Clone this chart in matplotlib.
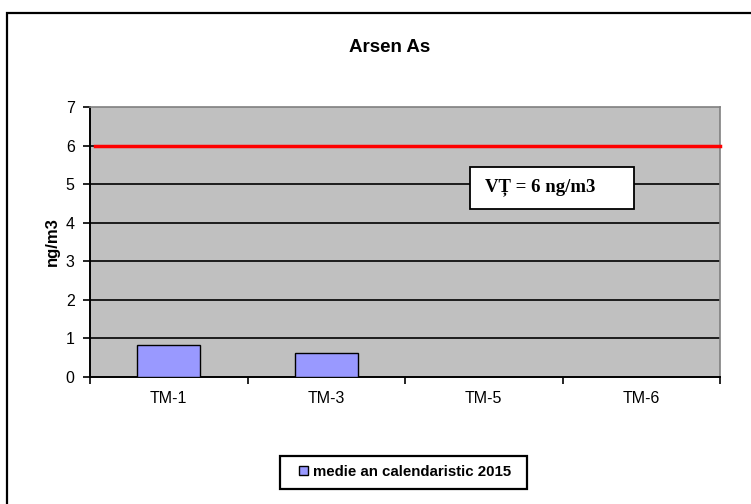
import matplotlib
matplotlib.use('Agg')
import matplotlib.pyplot as plt
from matplotlib.patches import Rectangle, Patch
import numpy as np

# date
statii = ['TM-1', 'TM-3', 'TM-5', 'TM-6']
medie_2015 = [0.83, 0.61, 0.0, 0.0]
valoare_tinta = 6
y_ticks = [0, 1, 2, 3, 4, 5, 6, 7]

plt.rcParams['font.family'] = ['Liberation Sans', 'DejaVu Sans']

fig = plt.figure(figsize=(7.51, 5.04), dpi=100)
W, H = 751, 504

# chenarul graficului
fig.patches.append(Rectangle((7 / W, -0.1), 1.2, 1 - 13 / H + 0.1,
                             transform=fig.transFigure, fill=False,
                             edgecolor='black', linewidth=1.6))

ax = fig.add_axes([90 / W, 1 - 377 / H, 630 / W, 270 / H])
ax.set_facecolor('#C0C0C0')

x = np.arange(len(statii))
ax.bar(x, medie_2015, width=0.4, color='#9999FF', edgecolor='black',
       linewidth=1.0, zorder=3)

for v in y_ticks[1:-1]:
    ax.axhline(v, color='black', linewidth=1.2, zorder=1)
ax.axhline(valoare_tinta, xmin=0.008, xmax=1.0, color='#FF0000',
           linewidth=2.5, zorder=4, clip_on=False)

ax.set_xlim(-0.5, len(statii) - 0.5)
ax.set_ylim(0, 7)
ax.set_yticks(y_ticks)
ax.set_xticks(x)
ax.set_xticklabels(statii)
ax.set_xticks(np.arange(-0.5, len(statii), 1.0), minor=True)
ax.tick_params(axis='x', which='major', length=0, pad=10, labelsize=11.5)
ax.tick_params(axis='x', which='minor', length=5, width=1.2, direction='out')
ax.tick_params(axis='y', length=5, width=1.2, direction='out', labelsize=11.5, pad=6)

for s in ['top', 'right']:
    ax.spines[s].set_color('#808080')
    ax.spines[s].set_linewidth(1.2)
for s in ['left', 'bottom']:
    ax.spines[s].set_color('black')
    ax.spines[s].set_linewidth(1.4)

ax.set_ylabel('ng/m3', fontsize=12, fontweight='bold', labelpad=4)

fig.text(390 / W, 1 - 48 / H, 'Arsen As', ha='center', va='center',
         fontsize=13.5, fontweight='bold')

# caseta valoare tinta
ax.add_patch(Rectangle((1.913, 4.36), 1.041, 1.08, facecolor='white',
                       edgecolor='black', linewidth=1.3, zorder=5))
ax.text(2.008, 4.92, 'VȚ = 6 ng/m3', ha='left', va='center', fontsize=13.5,
        fontweight='bold', family=['Liberation Serif', 'DejaVu Serif'], zorder=6)

# legenda
fig.patches.append(Rectangle((280 / W, 1 - 489 / H), 247 / W, 33 / H,
                             transform=fig.transFigure, facecolor='white',
                             edgecolor='black', linewidth=1.6))
handle = Patch(facecolor='#9999FF', edgecolor='black', linewidth=1.0)
leg = fig.legend([handle], ['medie an calendaristic 2015'],
                 loc='center', bbox_to_anchor=(405 / W, 1 - 472 / H),
                 frameon=False, handlelength=0.6,
                 handleheight=0.6, handletextpad=0.3, borderpad=0.6,
                 borderaxespad=0, prop={'weight': 'bold', 'size': 10.8})

fig.savefig('out.png', dpi=100)
